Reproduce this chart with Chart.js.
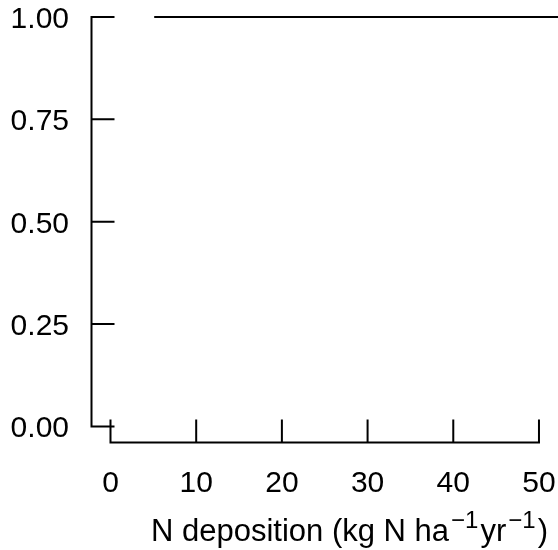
<!DOCTYPE html>
<html>
<head>
<meta charset="utf-8">
<script src="https://cdn.jsdelivr.net/npm/chart.js@4"></script>
<style>
  html, body { margin: 0; padding: 0; background: #fff; }
  canvas { display: block; }
</style>
</head>
<body>
<canvas id="chart" width="558" height="550"></canvas>
<script>
// series: fitted curve, flat at 1 over the shown range
var depositionX = [5.1, 53];
var proportionY = [1, 1];

// axes
var xTicks = [0, 10, 20, 30, 40, 50];
var xTickLabels = ["0", "10", "20", "30", "40", "50"];
var yTicks = [0, 0.25, 0.5, 0.75, 1];
var yTickLabels = ["0.00", "0.25", "0.50", "0.75", "1.00"];

var FONT = "'Liberation Sans', Arial, Helvetica, sans-serif";

// R-style L axes with inward ticks, offset from the data
var baseAxes = {
  id: "baseAxes",
  afterDraw: function (chart) {
    var ctx = chart.ctx;
    var xs = chart.scales.x;
    var ys = chart.scales.y;
    var axisX = chart.chartArea.left + 0.5; // y axis line
    var axisY = ys.getPixelForValue(0) + 16; // x axis line
    var tick = 23;

    ctx.save();
    ctx.strokeStyle = "#000";
    ctx.lineWidth = 2;
    ctx.lineCap = "butt";

    // y axis
    ctx.beginPath();
    ctx.moveTo(axisX, ys.getPixelForValue(yTicks[0]) + 1);
    ctx.lineTo(axisX, ys.getPixelForValue(yTicks[yTicks.length - 1]) - 1);
    yTicks.forEach(function (v) {
      var py = ys.getPixelForValue(v);
      ctx.moveTo(axisX, py);
      ctx.lineTo(axisX + tick, py);
    });
    ctx.stroke();

    // x axis
    ctx.beginPath();
    ctx.moveTo(xs.getPixelForValue(xTicks[0]) - 1, axisY);
    ctx.lineTo(xs.getPixelForValue(xTicks[xTicks.length - 1]) + 1, axisY);
    xTicks.forEach(function (v) {
      var px = xs.getPixelForValue(v);
      ctx.moveTo(px, axisY);
      ctx.lineTo(px, axisY - tick);
    });
    ctx.stroke();

    // tick labels
    ctx.fillStyle = "#000";
    ctx.font = "30px " + FONT;
    ctx.textAlign = "right";
    ctx.textBaseline = "alphabetic";
    yTicks.forEach(function (v, i) {
      ctx.fillText(yTickLabels[i], 69, ys.getPixelForValue(v) + 11);
    });
    ctx.textAlign = "center";
    xTicks.forEach(function (v, i) {
      ctx.fillText(xTickLabels[i], xs.getPixelForValue(v), axisY + 50);
    });

    // axis title with superscripts
    var parts = [
      { t: "N deposition (kg N ha", sup: false },
      { t: "\u22121", sup: true },
      { t: "yr", sup: false },
      { t: "\u22121", sup: true },
      { t: ")", sup: false }
    ];
    var big = "31px " + FONT, small = "24px " + FONT;
    var x0 = 151;
    var base = 541;
    ctx.textAlign = "left";
    parts.forEach(function (p) {
      ctx.font = p.sup ? small : big;
      if (p.sup) x0 += 2;
      ctx.fillText(p.t, x0, p.sup ? base - 13 : base);
      x0 += ctx.measureText(p.t).width + (p.sup ? 2 : 0);
    });
    ctx.restore();
  }
};

new Chart(document.getElementById("chart").getContext("2d"), {
  type: "line",
  data: {
    datasets: [
      {
        data: depositionX.map(function (x, i) { return { x: x, y: proportionY[i] }; }),
        borderColor: "#000",
        borderWidth: 2,
        pointRadius: 0,
        fill: false,
        tension: 0
      }
    ]
  },
  options: {
    responsive: false,
    animation: false,
    devicePixelRatio: 1,
    layout: { padding: { left: 91, right: 0, top: 5, bottom: 100 } },
    plugins: { legend: { display: false }, tooltip: { enabled: false } },
    scales: {
      x: { type: "linear", display: false, min: -2.275, max: 52.22 },
      y: { type: "linear", display: false, min: -0.0574, max: 1.0293 }
    }
  },
  plugins: [baseAxes]
});
</script>
</body>
</html>
